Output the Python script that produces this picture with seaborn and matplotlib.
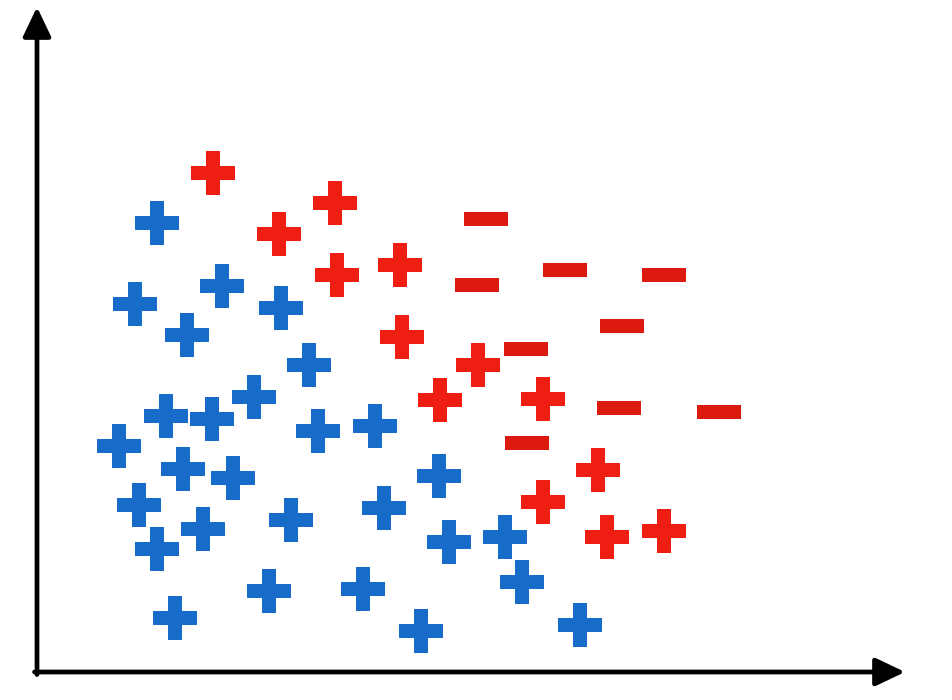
import numpy as np
import pandas as pd
import seaborn as sns
import matplotlib.pyplot as plt
from matplotlib.path import Path

# points (origin at the corner of the two axes)
blue_x = [120, 98, 185, 150, 244, 272, 217, 129, 175, 82, 281, 338, 146, 196,
          102, 166, 254, 347, 402, 120, 412, 468, 232, 326, 485, 138, 384, 543]
blue_y = [449, 368, 386, 337, 364, 307, 275, 256, 253, 226, 241, 246, 203, 194,
          167, 143, 152, 164, 196, 123, 130, 135, 81, 83, 90, 54, 41, 47]

red_plus_x = [176, 298, 242, 300, 363, 365, 441, 403, 506, 561, 506, 570, 627]
red_plus_y = [499, 469, 438, 397, 407, 335, 307, 272, 273, 202, 170, 135, 141]

red_minus_x = [449, 528, 627, 440, 585, 489, 582, 682, 490]
red_minus_y = [453, 402, 397, 387, 346, 323, 264, 260, 229]

df = pd.DataFrame({
    'x': blue_x + red_plus_x + red_minus_x,
    'y': blue_y + red_plus_y + red_minus_y,
    'kind': ['blue'] * len(blue_x) + ['plus'] * len(red_plus_x) + ['minus'] * len(red_minus_x),
})

minus_marker = Path([(-0.5, -0.155), (0.5, -0.155), (0.5, 0.155), (-0.5, 0.155), (-0.5, -0.155)],
                    closed=True)

sns.set_style('white')
fig = plt.figure(figsize=(9.52, 7.0), dpi=100)
ax = fig.add_axes([0, 0, 1, 1])

sns.scatterplot(data=df, x='x', y='y', hue='kind', style='kind',
                palette={'blue': '#176cca', 'plus': '#ef1e12', 'minus': '#dc1a10'},
                markers={'blue': 'P', 'plus': 'P', 'minus': minus_marker},
                s=1000, linewidth=0, legend=False, ax=ax)

ax.set_xlim(-37, 915)
ax.set_ylim(-28, 672)
ax.axis('off')

arrow = dict(arrowstyle='-|>,head_length=1.8,head_width=0.86', color='black',
             lw=3.4, shrinkA=0, shrinkB=0)
ax.annotate('', xy=(0, 665), xytext=(0, -2.5), arrowprops=arrow)
ax.annotate('', xy=(868, 0), xytext=(-2.5, 0), arrowprops=arrow)

plt.savefig('out.png', dpi=100)
